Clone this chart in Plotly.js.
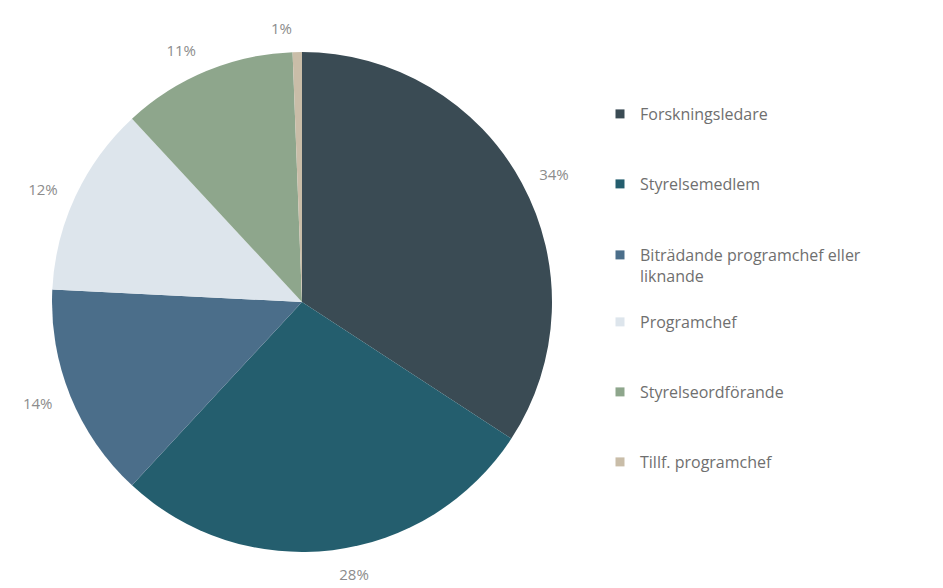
<!DOCTYPE html>
<html>
<head>
<meta charset="utf-8">
<script src="https://cdn.plot.ly/plotly-3.0.1.min.js"></script>
<style>html,body{margin:0;padding:0;background:#fff;}#chart{width:943px;height:588px;}</style>
</head>
<body>
<div id="chart"></div>
<script>
const categories = ["Forskningsledare", "Styrelsemedlem", "Biträdande programchef eller liknande", "Programchef", "Styrelseordförande", "Tillf. programchef"];
const legendLabels = ["Forskningsledare", "Styrelsemedlem", "Biträdande programchef eller<br>liknande", "Programchef", "Styrelseordförande", "Tillf. programchef"];
const shares = [34.2, 27.7, 13.9, 12.3, 11.3, 0.6];
const colors = ["#3a4b54", "#245e6e", "#4b6e8a", "#dde5ec", "#8ea68c", "#c9bda8"];

const FONT = "'Open Sans', Lato, sans-serif";
const W = 943, H = 588;
const CX = 302, CY = 302, R = 250, RLAB = 264;

function dom(r) {
  return {x: [(CX - r) / W, (CX + r) / W], y: [(H - CY - r) / H, (H - CY + r) / H]};
}

// Coloured slices
const pie = {
  type: "pie",
  labels: categories,
  values: shares,
  sort: false,
  direction: "clockwise",
  rotation: 0,
  marker: {colors: colors, line: {width: 0}},
  textinfo: "none",
  showlegend: false,
  hoverinfo: "label+percent",
  domain: dom(R)
};

// Transparent ring that carries the percentage labels slightly further out
const labelRing = {
  type: "pie",
  labels: categories,
  values: shares,
  sort: false,
  direction: "clockwise",
  rotation: 0,
  hole: R / RLAB,
  marker: {colors: categories.map(() => "rgba(0,0,0,0)"), line: {width: 0}},
  textinfo: "percent",
  texttemplate: "%{percent:.0%}",
  textposition: "outside",
  outsidetextfont: {family: FONT, size: 15, color: "#8c8c8c"},
  showlegend: false,
  hoverinfo: "skip",
  domain: dom(RLAB)
};

const legendIds = ["legend", "legend2", "legend3", "legend4", "legend5", "legend6"];
const legendTops = [97, 167, 238, 305, 375, 445];

const legendTraces = categories.map((c, i) => ({
  type: "scatter",
  x: [null], y: [null],
  mode: "markers",
  name: legendLabels[i],
  legend: legendIds[i],
  marker: {symbol: "square", size: 9, color: colors[i]},
  hoverinfo: "skip",
  showlegend: true
}));

const layout = {
  width: W, height: H,
  margin: {l: 0, r: 0, t: 0, b: 0},
  paper_bgcolor: "#ffffff",
  plot_bgcolor: "#ffffff",
  font: {family: FONT, size: 14, color: "#7a7a7a"},
  xaxis: {visible: false, domain: [0.99, 1]},
  yaxis: {visible: false, domain: [0.99, 1]},
  showlegend: true
};
legendIds.forEach((id, i) => {
  layout[id] = {
    x: 600 / W, xanchor: "left",
    y: 1 - legendTops[i] / H, yanchor: "top",
    valign: "top",
    font: {family: FONT, size: 16, color: "#6f6f6f"},
    bgcolor: "rgba(0,0,0,0)"
  };
});

Plotly.newPlot("chart", [pie, labelRing].concat(legendTraces), layout, {displayModeBar: false, staticPlot: true});
</script>
</body>
</html>
